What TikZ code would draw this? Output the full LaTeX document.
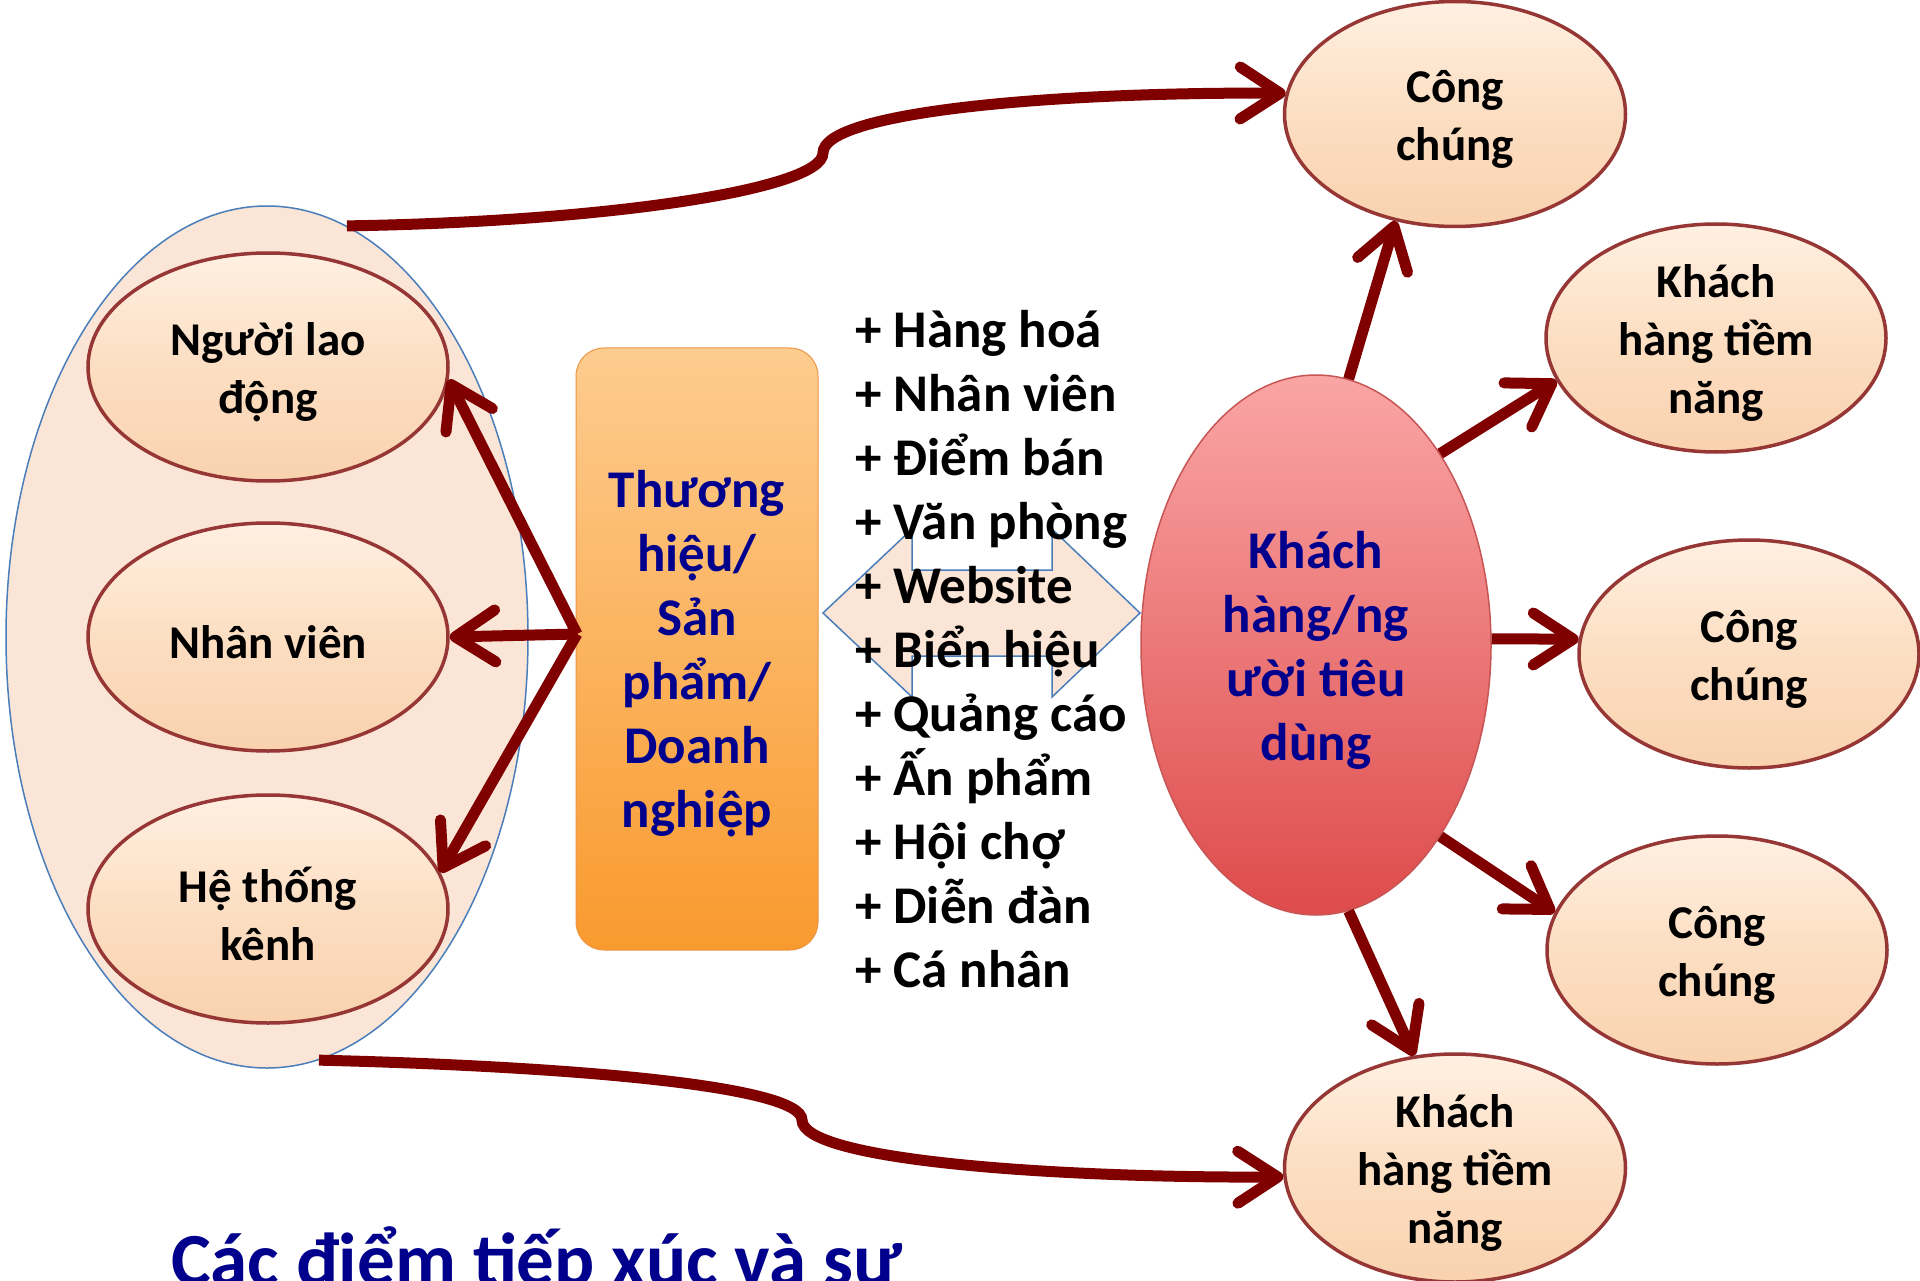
\documentclass[tikz,border=0pt]{standalone}
\usepackage{fontspec}
\setmainfont{Carlito}
\usetikzlibrary{shapes.geometric,arrows.meta}
\definecolor{peach}{RGB}{251,229,214}
\definecolor{bluebd}{RGB}{74,126,187}
\definecolor{arrred}{RGB}{128,0,0}
\definecolor{ebord}{RGB}{150,55,53}
\definecolor{elltop}{RGB}{255,240,226}
\definecolor{ellmid}{RGB}{252,222,194}
\definecolor{ellbot}{RGB}{249,210,175}
\definecolor{ortop}{RGB}{253,204,143}
\definecolor{orbot}{RGB}{249,154,46}
\definecolor{orbd}{RGB}{236,150,70}
\definecolor{rdtop}{RGB}{250,165,165}
\definecolor{rdbot}{RGB}{222,75,75}
\definecolor{rdbd}{RGB}{200,85,85}
\definecolor{navy}{RGB}{0,0,140}
\begin{document}
\begin{tikzpicture}[x=1pt,y=-1pt,
  smell/.style={ellipse, inner sep=0pt, draw=ebord, line width=3.5pt,
    top color=elltop, bottom color=ellbot, middle color=ellmid,
    minimum width=340pt, minimum height=228pt},
  etxt/.style={align=center, inner sep=0pt, yshift=-5pt, font=\fontsize{47}{58}\selectfont\bfseries, text=black},
  btxt/.style={align=center, inner sep=0pt, yshift=-5pt, font=\fontsize{53}{64}\selectfont\bfseries, text=navy},
  listtxt/.style={inner sep=0pt, font=\fontsize{53}{64}\selectfont\bfseries, text=black},
  arr/.style={draw=arrred, line width=11pt, -{Straight Barb[length=40pt,width=52pt,round]}},
]
\fill[white] (0,0) rectangle (1920,1281);
\useasboundingbox (0,0) rectangle (1920,1281);

% big group ellipse
\node[ellipse, inner sep=0pt, minimum width=522pt, minimum height=862pt,
  fill=peach, draw=bluebd, line width=1.5pt] (big) at (267,637) {};

% left ellipses
\node[smell, minimum width=360pt] (n1) at (268,367) {};
\node[etxt] (t1) at (n1) {Người lao\\động};
\node[smell, minimum width=360pt] (n2) at (268,637) {};
\node[etxt] (t2) at (n2) {Nhân viên};
\node[smell, minimum width=360pt] (n3) at (268,909) {};
\node[etxt] (t3) at (n3) {Hệ thống\\kênh};

% brand box
\node[rectangle, rounded corners=28pt, minimum width=242pt, minimum height=602pt,
  top color=ortop, bottom color=orbot, draw=orbd, line width=1pt] (tb) at (697,649) {};
\node[btxt] (tbt) at (tb) {Thương\\hiệu/\\Sản\\phẩm/\\Doanh\\nghiệp};

% double block arrow
\filldraw[fill=peach, draw=bluebd, line width=1.5pt, line join=miter]
  (823,613) -- (912,529) -- (912,570) -- (1052,570) -- (1052,529) -- (1140,613)
  -- (1052,697) -- (1052,656) -- (912,656) -- (912,697) -- cycle;

% customer ellipse
\node[ellipse, inner sep=0pt, minimum width=350pt, minimum height=540pt,
  top color=rdtop, bottom color=rdbot, draw=rdbd, line width=1.5pt] (kh) at (1316,645) {};
\node[btxt] (kht) at (kh) {Khách\\hàng/ng\\ười tiêu\\dùng};

% right ellipses
\node[smell, minimum width=341pt, minimum height=225pt] (cc1) at (1455,114) {};
\node[etxt] (c1t) at (cc1) {Công\\chúng};
\node[smell] (tn1) at (1716,338) {};
\node[etxt] (n1t) at (tn1) {Khách\\hàng tiềm\\năng};
\node[smell] (cc2) at (1749,654) {};
\node[etxt] (c2t) at (cc2) {Công\\chúng};
\node[smell] (cc3) at (1717,950) {};
\node[etxt] (c3t) at (cc3) {Công\\chúng};
\node[smell, minimum width=341pt] (tn2) at (1455,1168) {};
\node[etxt] (n2t) at (tn2) {Khách\\hàng tiềm\\năng};

% arrows from brand box
\coordinate (src) at (577,634);
\draw[arr] (src) -- (n1.-4);
\draw[arr] (src) -- (n2.east);
\draw[arr] (src) -- (n3.12);

% arrows from customer
\draw[arr] (kh.83) -- (cc1.241);
\draw[arr] (kh.57) -- (tn1.195);
\draw[arr] (kh.2) -- (cc2.175);
\draw[arr] (kh.-57) -- (cc3.167);
\draw[arr] (kh.-83) -- (tn2.110);

% long curved arrows
\draw[arr] (big.79) .. controls (600,222) and (823,190) .. (823,153)
  .. controls (823,112) and (1050,92) .. (cc1.173);
\draw[arr] (big.-83.5) .. controls (560,1066) and (802,1085) .. (802,1120)
  .. controls (802,1160) and (1050,1178) .. (tn2.183);

% touch point list
\foreach \t [count=\i] in {Hàng hoá, Nhân viên, Điểm bán, Văn phòng, Website,
  Biển hiệu, Quảng cáo, Ấn phẩm, Hội chợ, Diễn đàn, Cá nhân}
  \node[listtxt, anchor=base west] (l\i) at (855,{348+(\i-1)*63.9}) {+ \t};

% title (cut by the page edge, as in the reference)
\node[anchor=base west, inner sep=0pt, font=\fontsize{75}{90}\selectfont\bfseries, text=navy]
  (title) at (171,1285) {Các điểm tiếp xúc và sự};
\end{tikzpicture}
\end{document}
